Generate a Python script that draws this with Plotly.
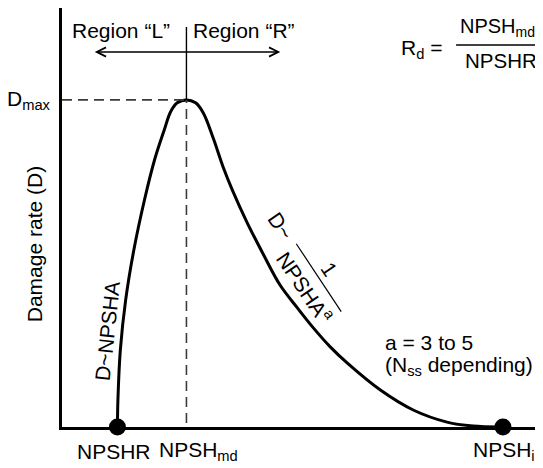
'''
Damage rate versus NPSHA sketch: cavitation damage peaks at NPSH_md.
'''

import plotly.graph_objects as go

# Curve (NPSH in arbitrary units, damage normalised to D_max = 1)
curve_npsh = [1.18, 1.19, 1.24, 1.35, 1.52, 1.74, 1.95, 2.15, 2.28, 2.42, 2.61,
              2.80, 2.96, 3.17, 3.37, 3.56, 3.87, 4.20, 4.55, 4.91, 5.24, 5.59,
              5.94, 6.63, 7.31, 8.01, 8.55, 9.11]
curve_damage = [0.000, 0.083, 0.235, 0.388, 0.541, 0.694, 0.817, 0.908, 0.963, 0.991,
                1.000, 0.991, 0.960, 0.881, 0.795, 0.725, 0.624, 0.529, 0.434, 0.364,
                0.303, 0.245, 0.196, 0.113, 0.052, 0.015, 0.003, 0.000]

# Key points on the NPSH axis
key_labels = ['NPSHR', 'NPSH<sub>md</sub>', 'NPSH<sub>i</sub>']
key_npsh = [1.18, 2.61, 9.17]
d_max = 1.0

FONT = 'Liberation Sans, Arial, sans-serif'
W, H = 543, 468
OFF = 8                      # page margin of the browser
PL, PR, PT, PB = 61.5, W + OFF, OFF, 427.5   # plot area in window pixels
X0, XS = 60, 48.3            # window px of NPSH = 0, px per unit
Y0, YS = PB, 327.5           # window px of D = 0, px per unit


def px_x(px: float) -> float:
    '''Convert a window pixel column to paper x.'''
    return (px - PL) / (PR - PL)


def px_y(py: float) -> float:
    '''Convert a window pixel row to paper y.'''
    return (PB - py) / (PB - PT)


def text(x, y, s, angle=0, xanchor='center', size=21):
    return dict(x=px_x(x), y=px_y(y), xref='paper', yref='paper', text=s,
                showarrow=False, textangle=angle, xanchor=xanchor, yanchor='middle',
                font={'size': size, 'color': 'black', 'family': FONT})


fig = go.Figure()

fig.add_trace(go.Scatter(
    x=curve_npsh, y=curve_damage, mode='lines', line_shape='spline',
    line={'color': 'black', 'width': 3}, hoverinfo='skip'
))

fig.add_trace(go.Scatter(
    x=[key_npsh[0], key_npsh[2]], y=[0, 0], mode='markers', cliponaxis=False,
    marker={'color': 'black', 'size': 17}, hoverinfo='skip'
))

# Dashed guides to the peak, solid divider above it
dash_line = {'color': '#3a3a3a', 'width': 1.6, 'dash': '10px,6px'}
fig.add_shape(type='line', x0=(PL - X0) / XS, x1=key_npsh[1], y0=d_max, y1=d_max,
              line=dash_line)
fig.add_shape(type='line', x0=key_npsh[1], x1=key_npsh[1], y0=0.012, y1=d_max,
              line=dash_line)
fig.add_shape(type='line', x0=key_npsh[1], x1=key_npsh[1], y0=d_max, y1=(Y0 - 27) / YS,
              line={'color': 'black', 'width': 1.4})

# Double arrow for the regions
fig.add_annotation(x=px_x(280), y=px_y(52), xref='paper', yref='paper', ax=-187, ay=0,
                   text='', showarrow=True, arrowside='end+start', arrowhead=5,
                   arrowsize=1.3, arrowwidth=1.4, arrowcolor='black', standoff=0,
                   startstandoff=0)

annotations = [
    text(121, 31, 'Region \u201cL\u201d'),
    text(244, 31, 'Region \u201cR\u201d'),
    text(421, 49, 'R<sub>d</sub> ='),
    text(537, 28, 'NPSH<sub>md</sub>', xanchor='right', size=20),
    text(501, 61, 'NPSHR', size=20.5),
    text(34, 245, 'Damage rate (D)', angle=-90),
    text(107, 331, 'D~NPSHA', angle=-84),
    text(280, 226, 'D~', angle=56),
    text(329, 270, '1', angle=56),
    text(305, 287, 'NPSHA<sup>a</sup>', angle=56),
    text(383, 343, 'a = 3 to 5', xanchor='left'),
    text(383, 366, '(N<sub>ss</sub> depending)', xanchor='left'),
]
for a in annotations:
    fig.add_annotation(a)

# Fraction bars
fig.add_shape(type='line', xref='paper', yref='paper', x0=px_x(456), x1=px_x(543),
              y0=px_y(45), y1=px_y(45), line={'color': 'black', 'width': 1.4})
fig.add_shape(type='line', xref='paper', yref='paper', x0=px_x(296), x1=px_x(341),
              y0=px_y(244), y1=px_y(312), line={'color': 'black', 'width': 1.2})

# Axis labels
fig.add_annotation(x=px_x(52), y=d_max, xref='paper', yref='y', text='D<sub>max</sub>',
                   showarrow=False, xanchor='right', yanchor='middle',
                   font={'size': 21, 'color': 'black', 'family': FONT})
for lab, xv, dx in zip(key_labels, key_npsh, [-3, 12, 1]):
    fig.add_annotation(x=xv, y=px_y(452), xref='x', yref='paper', text=lab, showarrow=False,
                       xanchor='center', yanchor='middle', xshift=dx,
                       font={'size': 21, 'color': 'black', 'family': FONT})

axis = dict(showline=True, linewidth=3, linecolor='black', showgrid=False,
            zeroline=False, showticklabels=False, ticks='', fixedrange=True)
fig.update_layout(
    xaxis={**axis, 'range': [(PL - X0) / XS, (PR - X0) / XS]},
    yaxis={**axis, 'range': [0, (Y0 - PT) / YS]},
    showlegend=False,
    plot_bgcolor='white',
    paper_bgcolor='white',
    width=W,
    height=H,
    margin={'l': PL - OFF, 'r': 0, 't': PT - OFF, 'b': H - (PB - OFF)},
)

fig.write_html('out.html')
